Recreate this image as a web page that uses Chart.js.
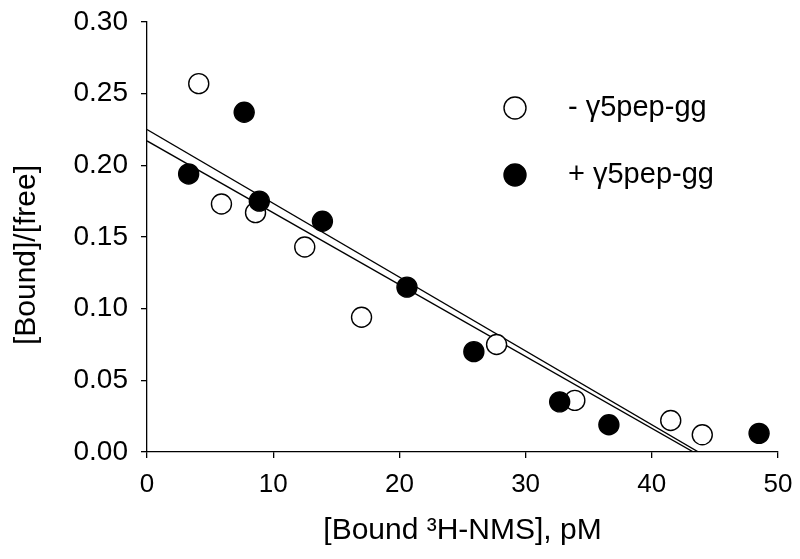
<!DOCTYPE html>
<html>
<head>
<meta charset="utf-8">
<script src="https://cdn.jsdelivr.net/npm/chart.js@4/dist/chart.umd.min.js"></script>
<style>
    body { margin: 0; background: #ffffff; }
    #wrap { width: 800px; height: 559px; }
</style>
</head>
<body>
<div id="wrap"><canvas id="chart" width="800" height="559"></canvas></div>
<script>
// values
const openX = [4.1, 5.9, 8.6, 12.5, 17.0, 27.7, 33.9, 41.5, 44.0];
const openY = [0.257, 0.173, 0.167, 0.143, 0.094, 0.075, 0.036, 0.022, 0.012];
const filledX = [3.3, 7.7, 8.9, 13.9, 20.6, 25.9, 32.7, 36.6, 48.5];
const filledY = [0.194, 0.237, 0.175, 0.161, 0.115, 0.070, 0.035, 0.019, 0.013];
const fitUpperX = [0, 43.7];
const fitUpperY = [0.225, 0];
const fitLowerX = [0, 43.3];
const fitLowerY = [0.217, 0];
const seriesLabels = ["- \u03b35pep-gg", "+ \u03b35pep-gg"];
const xTitle = "[Bound \u00b3H-NMS], pM";
const yTitle = "[Bound]/[free]";

const toPoints = (xs, ys) => xs.map((x, i) => ({ x: x, y: ys[i] }));
const FONT = "'Liberation Sans', Arial, sans-serif";

// legend drawn inside the plot, top right
const innerLegend = {
    id: "innerLegend",
    afterDraw(chart, args, opts) {
        const ctx = chart.ctx;
        ctx.save();
        opts.items.forEach((item) => {
            const ds = chart.data.datasets[item.dataset];
            ctx.beginPath();
            ctx.arc(opts.markerX, item.y, opts.radius, 0, Math.PI * 2);
            ctx.fillStyle = ds.backgroundColor;
            ctx.fill();
            ctx.lineWidth = ds.borderWidth;
            ctx.strokeStyle = ds.borderColor;
            ctx.stroke();
            ctx.fillStyle = "#000";
            ctx.font = opts.font;
            ctx.textAlign = "left";
            ctx.textBaseline = "middle";
            ctx.fillText(ds.label, opts.textX, item.y);
        });
        ctx.restore();
    },
};

// y title sits a bit below the middle of the axis
const yAxisTitle = {
    id: "yAxisTitle",
    afterDraw(chart, args, opts) {
        const ctx = chart.ctx;
        ctx.save();
        ctx.translate(opts.x, opts.y);
        ctx.rotate(-Math.PI / 2);
        ctx.font = opts.font;
        ctx.fillStyle = "#000";
        ctx.textAlign = "center";
        ctx.textBaseline = "middle";
        ctx.fillText(opts.text, 0, 0);
        ctx.restore();
    },
};

new Chart(document.getElementById("chart"), {
    type: "scatter",
    data: {
        datasets: [
            {
                label: "fit upper",
                data: toPoints(fitUpperX, fitUpperY),
                showLine: true,
                borderColor: "#000",
                borderWidth: 1.4,
                pointRadius: 0,
                order: 3,
            },
            {
                label: "fit lower",
                data: toPoints(fitLowerX, fitLowerY),
                showLine: true,
                borderColor: "#000",
                borderWidth: 1.4,
                pointRadius: 0,
                order: 3,
            },
            {
                label: seriesLabels[0],
                data: toPoints(openX, openY),
                backgroundColor: "#ffffff",
                borderColor: "#000",
                borderWidth: 1.4,
                pointRadius: 10,
                order: 2,
            },
            {
                label: seriesLabels[1],
                data: toPoints(filledX, filledY),
                backgroundColor: "#000",
                borderColor: "#000",
                borderWidth: 1.4,
                pointRadius: 10,
                order: 1,
            },
        ],
    },
    options: {
        responsive: false,
        animation: false,
        layout: { padding: { top: 22, right: 22, left: 0, bottom: 0 } },
        plugins: {
            legend: { display: false },
            tooltip: { enabled: false },
            innerLegend: {
                markerX: 515,
                textX: 568,
                radius: 11,
                font: "29px " + FONT,
                items: [
                    { dataset: 2, y: 108 },
                    { dataset: 3, y: 175 },
                ],
            },
            yAxisTitle: { text: yTitle, x: 27, y: 255, font: "30px " + FONT },
        },
        scales: {
            x: {
                type: "linear",
                min: 0,
                max: 50,
                afterFit: (scale) => {
                    scale.height = 107;
                    scale.paddingLeft = 0;
                    scale.paddingRight = 0;
                },
                ticks: {
                    stepSize: 10,
                    color: "#000",
                    padding: 11,
                    maxRotation: 0,
                    font: { family: FONT, size: 26 },
                },
                grid: { drawOnChartArea: false, drawTicks: true, tickLength: 6, color: "#000", lineWidth: 1.3 },
                border: { display: true, color: "#000", width: 1.3 },
                title: {
                    display: true,
                    text: xTitle,
                    color: "#000",
                    font: { family: FONT, size: 30 },
                    padding: { top: 0, bottom: 10 },
                },
            },
            y: {
                type: "linear",
                min: 0,
                max: 0.3,
                afterFit: (scale) => {
                    scale.width = 147;
                    scale.paddingTop = 0;
                    scale.paddingBottom = 0;
                },
                ticks: {
                    stepSize: 0.05,
                    color: "#000",
                    padding: 13,
                    font: { family: FONT, size: 28 },
                    callback: (v) => v.toFixed(2),
                },
                grid: { drawOnChartArea: false, drawTicks: true, tickLength: 6, color: "#000", lineWidth: 1.3 },
                border: { display: true, color: "#000", width: 1.3 },
            },
        },
    },
    plugins: [innerLegend, yAxisTitle],
});
</script>
</body>
</html>
